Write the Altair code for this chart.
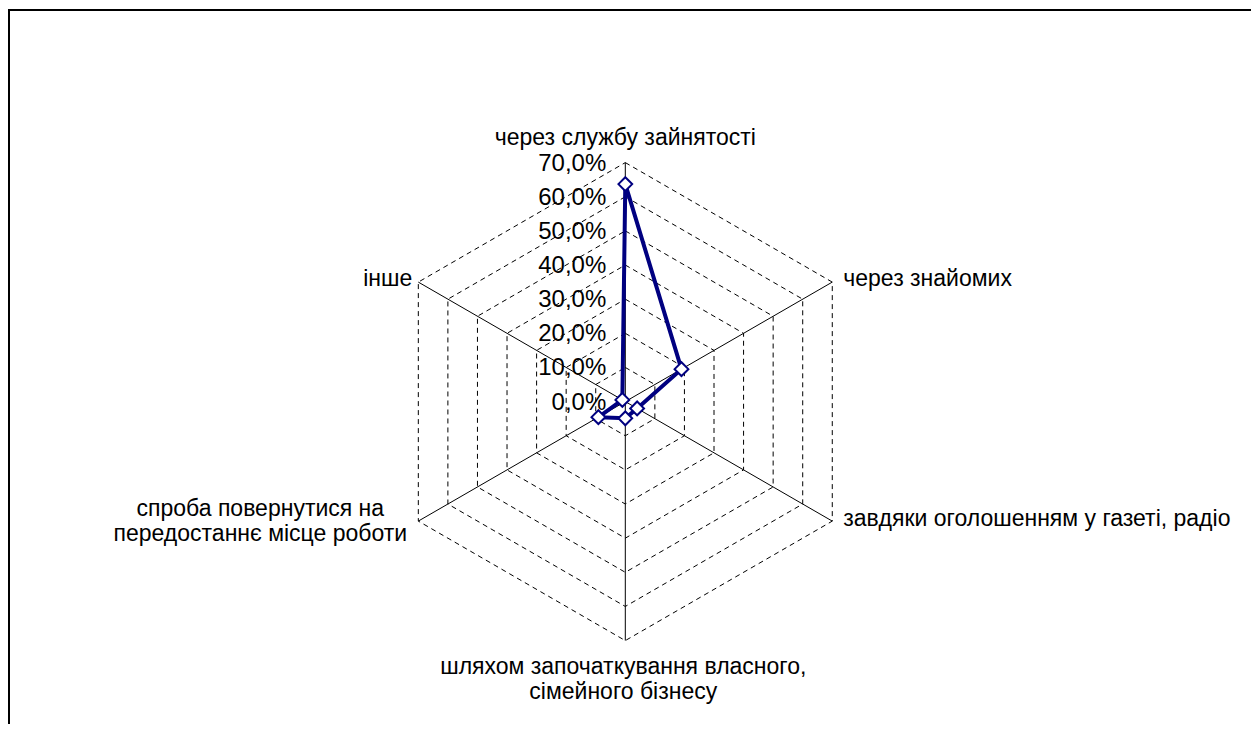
import math
import altair as alt
import pandas as pd

# ---- data ----
categories = [
    "через службу зайнятості",
    "через знайомих",
    "завдяки  оголошенням у газеті, радіо",
    "шляхом започаткування власного,\nсімейного бізнесу",
    "спроба повернутися на\nпередостаннє місце роботи",
    "інше",
]
values = [63.7, 19.0, 4.0, 4.9, 9.1, 1.0]
ticks = [0, 10, 20, 30, 40, 50, 60, 70]
tick_labels = ["0,0%", "10,0%", "20,0%", "30,0%", "40,0%", "50,0%", "60,0%", "70,0%"]

# ---- layout ----
W, H = 1243, 716
CX, CY = 617.3, 393.6      # centre of radar in view pixels
R = 239.0                  # pixel radius of outer ring
RMAX = ticks[-1]
u = R / RMAX
xs = alt.Scale(domain=[-CX / u, (W - CX) / u], nice=False, zero=False)
ys = alt.Scale(domain=[-(H - CY) / u, CY / u], nice=False, zero=False)
NAVY = "#000080"
FONT = "Liberation Sans"
n = len(categories)

series = pd.DataFrame({"cat": categories, "value": values, "idx": list(range(n))})
line_df = pd.concat([series, series.iloc[[0]].assign(idx=n)], ignore_index=True)

grid_df = pd.DataFrame(
    [{"level": lv, "k": k} for lv in ticks[1:] for k in range(n + 1)]
)
spoke_df = pd.DataFrame({"cat": categories, "k": list(range(n))})
tick_df = pd.DataFrame({"level": ticks, "label": tick_labels})

STEP = f"2*PI/{n}"


def xy(df_chart, r_expr, k_expr):
    return df_chart.transform_calculate(
        px=f"({r_expr})*sin(({k_expr})*{STEP})",
        py=f"({r_expr})*cos(({k_expr})*{STEP})",
    )


X = alt.X("px:Q", scale=xs, axis=None)
Y = alt.Y("py:Q", scale=ys, axis=None)

grid = xy(alt.Chart(grid_df), "datum.level", "datum.k").mark_line(
    color="#000000", strokeWidth=1, strokeDash=[5, 4]
).encode(x=X, y=Y, detail="level:N", order="k:Q")

spokes = xy(alt.Chart(spoke_df), str(RMAX), "datum.k").transform_calculate(
    zx="0", zy="0"
).mark_rule(color="#000000", strokeWidth=1).encode(
    x=X, y=Y, x2="zx:Q", y2="zy:Q"
)

tick_text = alt.Chart(tick_df).transform_calculate(
    px="0", py="datum.level"
).mark_text(
    align="right", baseline="middle", dx=-19, dy=1, font=FONT, fontSize=24, color="#000000"
).encode(x=X, y=Y, text="label:N")

series_line = xy(alt.Chart(line_df), "datum.value", "datum.idx").mark_line(
    color=NAVY, strokeWidth=4
).encode(x=X, y=Y, order="idx:Q")

series_pts = xy(alt.Chart(series), "datum.value", "datum.idx").mark_point(
    shape="diamond", filled=True, fill="white", stroke=NAVY, strokeWidth=2,
    size=190, opacity=1
).encode(x=X, y=Y)

label_style = [
    dict(align="center", dx=0, dy=-18),
    dict(align="left", dx=11, dy=4),
    dict(align="left", dx=11, dy=5),
    dict(align="center", dx=-2, dy=33),
    dict(align="center", dx=-158, dy=-5),
    dict(align="right", dx=-6, dy=4),
]
label_layers = []
for i, st in enumerate(label_style):
    label_layers.append(
        xy(alt.Chart(spoke_df), str(RMAX), "datum.k")
        .transform_filter(f"datum.k == {i}")
        .mark_text(
            baseline="alphabetic", font=FONT, fontSize=23, color="#000000",
            lineBreak="\n", lineHeight=25, **st
        )
        .encode(x=X, y=Y, text="cat:N")
    )

frame_data = alt.Data(values=[{}])
frame_left = alt.Chart(frame_data).mark_rule(color="#000000", strokeWidth=2).encode(
    x=alt.value(1), y=alt.value(1), y2=alt.value(H)
)
frame_top = alt.Chart(frame_data).mark_rule(color="#000000", strokeWidth=2).encode(
    x=alt.value(0), x2=alt.value(W), y=alt.value(2)
)

chart = alt.layer(
    grid, spokes, tick_text, series_line, series_pts, *label_layers, frame_left, frame_top
).properties(
    width=W, height=H, padding=0, autosize="none", background="white"
).configure_view(stroke=None)

chart.save("out.html", embed_options={"renderer": "svg", "actions": False})
